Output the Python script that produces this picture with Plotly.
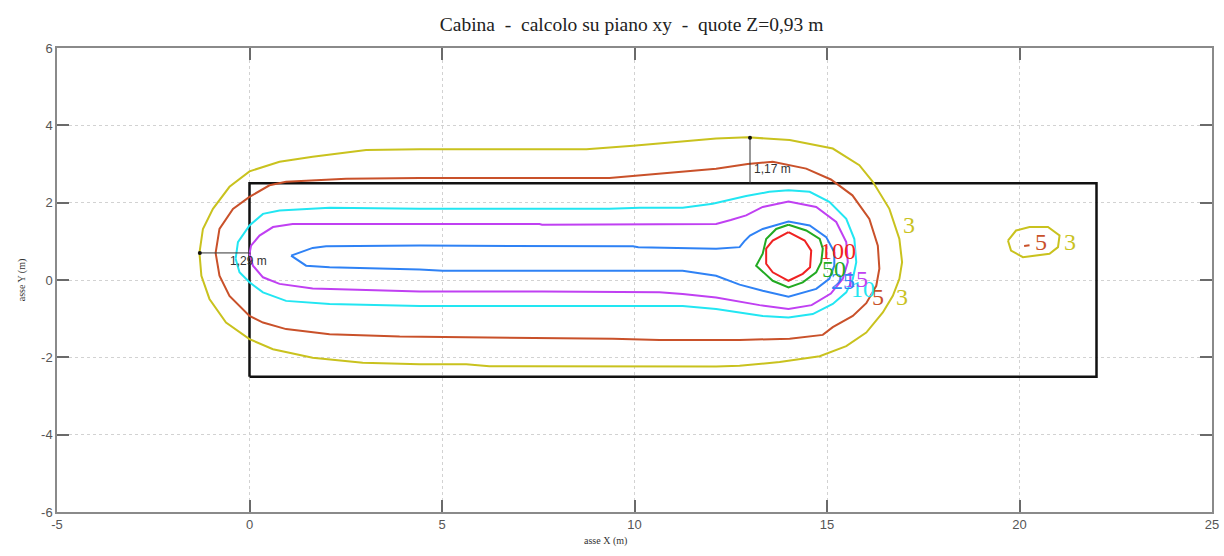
import plotly.graph_objects as go

# ---- data ----
LEVELS = [3, 5, 10, 15, 25, 50, 100]
COLORS = {3: "#c9c21e", 5: "#c9512a", 10: "#22e6f2", 15: "#c040f2", 25: "#2f82f5", 50: "#22aa22", 100: "#ef2222"}

C3_X = [-1.30, -1.21, -0.95, -0.52, 0.0, 0.78, 1.64, 3.03, 4.42, 8.75, 9.96, 11.25, 12.12, 12.94, 14.03, 15.15, 15.84, 16.19,
        16.62, 16.88, 16.95, 16.88, 16.71, 16.45, 16.02, 15.50, 14.81, 13.77, 12.73, 12.12, 9.96, 8.23, 6.23, 5.63, 4.42,
        2.94, 1.64, 0.61, 0.0, -0.61, -1.04, -1.25, -1.30]
C3_Y = [0.70, 1.32, 1.84, 2.41, 2.81, 3.06, 3.19, 3.36, 3.38, 3.38, 3.47, 3.58, 3.66, 3.69, 3.62, 3.40, 2.97, 2.54,
        1.84, 1.06, 0.46, 0.03, -0.41, -0.84, -1.36, -1.71, -1.97, -2.12, -2.22, -2.24, -2.24, -2.24, -2.23, -2.18, -2.18,
        -2.14, -2.01, -1.79, -1.53, -1.10, -0.49, 0.11, 0.70]

C3B_X = [19.70, 19.91, 20.26, 20.74, 21.04, 21.00, 20.78, 20.09, 19.78, 19.70]
C3B_Y = [1.02, 1.28, 1.37, 1.37, 1.15, 0.85, 0.68, 0.59, 0.76, 1.02]

C5_X = [-0.88, -0.78, -0.43, 0.0, 0.52, 0.95, 2.51, 4.42, 9.35, 10.13, 11.08, 12.12, 12.94, 13.59, 14.46, 15.10, 15.66,
        16.10, 16.32, 16.36, 16.28, 16.02, 15.67, 15.15, 14.89, 14.03, 12.73, 10.65, 9.44, 6.32, 3.90, 2.08, 0.95, 0.35,
        0.0, -0.52, -0.78, -0.88]
C5_Y = [0.70, 1.32, 1.84, 2.15, 2.45, 2.54, 2.62, 2.64, 2.64, 2.71, 2.80, 2.88, 3.00, 3.06, 2.88, 2.60, 2.19,
        1.58, 0.89, 0.29, -0.15, -0.60, -0.93, -1.22, -1.42, -1.52, -1.55, -1.55, -1.52, -1.49, -1.46, -1.40, -1.27, -1.10,
        -0.93, -0.41, 0.11, 0.70]
C5B_X = [20.12, 20.26]
C5B_Y = [0.88, 0.90]

C10_X = [-0.36, -0.30, 0.0, 0.35, 0.78, 2.08, 4.42, 9.35, 10.13, 11.25, 12.03, 12.50, 12.90, 13.50, 14.0, 14.55, 15.06,
         15.50, 15.71, 15.76, 15.67, 15.50, 15.15, 14.63, 14.0, 13.33, 12.73, 12.12, 11.25, 8.75, 4.42, 2.08, 0.95, 0.35,
         0.0, -0.26, -0.36]
C10_Y = [0.55, 0.98, 1.41, 1.71, 1.80, 1.87, 1.84, 1.84, 1.87, 1.87, 1.97, 2.08, 2.17, 2.28, 2.32, 2.28, 2.02,
         1.58, 1.06, 0.46, 0.03, -0.32, -0.62, -0.88, -0.97, -0.93, -0.84, -0.75, -0.67, -0.67, -0.67, -0.62, -0.54, -0.32,
         -0.06, 0.20, 0.55]

C15_X = [0.0, 0.04, 0.26, 0.61, 1.12, 4.42, 7.53, 7.60, 12.12, 12.50, 12.90, 13.33, 14.0, 14.72, 15.24, 15.50, 15.54,
         15.41, 15.10, 14.60, 14.0, 13.25, 12.73, 12.12, 11.25, 10.65, 7.62, 4.42, 1.64, 0.78, 0.35, 0.09, 0.0]
C15_Y = [0.68, 0.89, 1.15, 1.37, 1.45, 1.45, 1.45, 1.43, 1.45, 1.55, 1.67, 1.89, 2.03, 1.89, 1.50, 0.98, 0.46,
         0.03, -0.35, -0.65, -0.75, -0.65, -0.55, -0.45, -0.36, -0.32, -0.30, -0.30, -0.22, -0.10, 0.07, 0.37, 0.68]

C25_X = [1.08, 1.64, 1.99, 4.42, 9.96, 10.10, 12.12, 12.73, 12.85, 13.0, 13.33, 14.0, 14.55, 14.98, 15.19, 15.19, 15.06,
         14.72, 14.0, 13.33, 12.73, 12.12, 11.25, 5.02, 4.42, 2.08, 1.47, 1.08]
C25_Y = [0.63, 0.83, 0.87, 0.89, 0.87, 0.85, 0.81, 0.85, 1.0, 1.15, 1.32, 1.51, 1.41, 1.11, 0.72, 0.37, 0.03,
         -0.23, -0.43, -0.28, -0.12, 0.11, 0.24, 0.24, 0.27, 0.33, 0.37, 0.63]

C50_X = [14.0, 14.46, 14.81, 14.89, 14.85, 14.72, 14.37, 14.0, 13.59, 13.16, 13.33, 13.42, 13.68, 14.0]
C50_Y = [1.43, 1.28, 1.06, 0.81, 0.46, 0.20, -0.06, -0.19, -0.02, 0.37, 0.68, 1.06, 1.32, 1.43]

C100_X = [14.0, 14.42, 14.59, 14.56, 14.37, 14.0, 13.59, 13.42, 13.42, 13.59, 14.0]
C100_Y = [1.24, 1.02, 0.76, 0.33, 0.16, -0.02, 0.20, 0.42, 0.81, 1.02, 1.24]

CONTOURS = [
    (3, C3_X, C3_Y), (3, C3B_X, C3B_Y), (5, C5_X, C5_Y), (5, C5B_X, C5B_Y), (10, C10_X, C10_Y),
    (15, C15_X, C15_Y), (25, C25_X, C25_Y), (50, C50_X, C50_Y), (100, C100_X, C100_Y),
]

# contour labels: (text level, x, y)
LABELS = [
    (3, 17.14, 1.41), (3, 16.94, -0.44), (3, 21.30, 0.98), (5, 20.56, 0.98), (5, 16.32, -0.45),
    (10, 15.93, -0.23), (15, 15.76, 0.03), (25, 15.41, -0.02), (50, 15.19, 0.29), (100, 15.28, 0.76),
]

# cabin outline
RECT_X = [0, 22, 22, 0, 0]
RECT_Y = [-2.5, -2.5, 2.5, 2.5, -2.5]

# dimension lines
DIM_V_X = [13.0, 13.0]
DIM_V_Y = [2.5, 3.68]
DIM_V_LABEL = "1,17 m"
DIM_H_X = [-1.29, 0.0]
DIM_H_Y = [0.70, 0.70]
DIM_H_LABEL = "1,29 m"

X_TICKS = [-5, 0, 5, 10, 15, 20, 25]
Y_TICKS = [-6, -4, -2, 0, 2, 4, 6]

TITLE = "Cabina  -  calcolo su piano xy  -  quote Z=0,93 m"

fig = go.Figure()

fig.add_trace(go.Scatter(x=RECT_X, y=RECT_Y, mode="lines", line=dict(color="#111111", width=2.5),
                         hoverinfo="skip", showlegend=False))

for lvl, xs, ys in CONTOURS:
    fig.add_trace(go.Scatter(x=xs, y=ys, mode="lines", line=dict(color=COLORS[lvl], width=2),
                             name=str(lvl), showlegend=False))

for xs, ys in [(DIM_V_X, DIM_V_Y), (DIM_H_X, DIM_H_Y)]:
    fig.add_trace(go.Scatter(x=xs, y=ys, mode="lines", line=dict(color="#333333", width=1),
                             hoverinfo="skip", showlegend=False))
fig.add_trace(go.Scatter(x=[DIM_V_X[1], DIM_H_X[0]], y=[DIM_V_Y[1], DIM_H_Y[0]], mode="markers",
                         marker=dict(color="#111111", size=4), hoverinfo="skip", showlegend=False))

annotations = []
for lvl, x, y in LABELS:
    annotations.append(dict(x=x, y=y, xref="x", yref="y", text=str(lvl), showarrow=False,
                            font=dict(family="Liberation Serif, Times New Roman, serif", size=24, color=COLORS[lvl])))

annotations.append(dict(x=DIM_V_X[0] + 0.05, y=2.86, xref="x", yref="y", text=DIM_V_LABEL, showarrow=False,
                        xanchor="left", font=dict(family="Liberation Sans, Arial, sans-serif", size=12, color="#333333")))
annotations.append(dict(x=-0.57, y=0.49, xref="x", yref="y", text=DIM_H_LABEL, showarrow=False,
                        xanchor="left", font=dict(family="Liberation Sans, Arial, sans-serif", size=12, color="#333333")))

annotations.append(dict(x=0.475, y=-0.08, xref="paper", yref="paper", text="asse X (m)", showarrow=False,
                        font=dict(family="Liberation Serif, Times New Roman, serif", size=10, color="#333333")))
annotations.append(dict(x=-0.037, y=0.5, xref="paper", yref="paper", text="asse Y (m)", showarrow=False,
                        textangle=-90,
                        font=dict(family="Liberation Serif, Times New Roman, serif", size=10, color="#333333")))

axis_common = dict(showline=True, linecolor="#8a8a8a", linewidth=1.5, mirror="ticks", ticks="inside",
                   ticklen=12, tickwidth=1.5, tickcolor="#6a6a6a", showgrid=True, gridcolor="#d2d2d2",
                   griddash="dot", gridwidth=1, zeroline=False, automargin=False,
                   tickfont=dict(family="Liberation Sans, Arial, sans-serif", size=13, color="#555555"))

fig.update_layout(
    width=1224, height=556, autosize=False,
    margin=dict(l=57, r=12, t=48, b=44, autoexpand=False),
    paper_bgcolor="white", plot_bgcolor="white",
    title=dict(text=TITLE, x=0.516, xanchor="center", y=0.957, yanchor="middle", automargin=False,
               font=dict(family="Liberation Serif, Times New Roman, serif", size=19.5, color="#222222")),
    xaxis=dict(range=[-5, 25], tickvals=X_TICKS, ticktext=[str(v) for v in X_TICKS], **axis_common),
    yaxis=dict(range=[-6, 6], tickvals=Y_TICKS, ticktext=[str(v) for v in Y_TICKS], **axis_common),
    annotations=annotations,
    showlegend=False,
)

# remove the page's default body margin so the 1224x556 figure fills the window exactly
fig.write_html("out.html", config={"displayModeBar": False},
               post_script="document.body.style.margin='0';document.body.style.overflow='hidden';")
